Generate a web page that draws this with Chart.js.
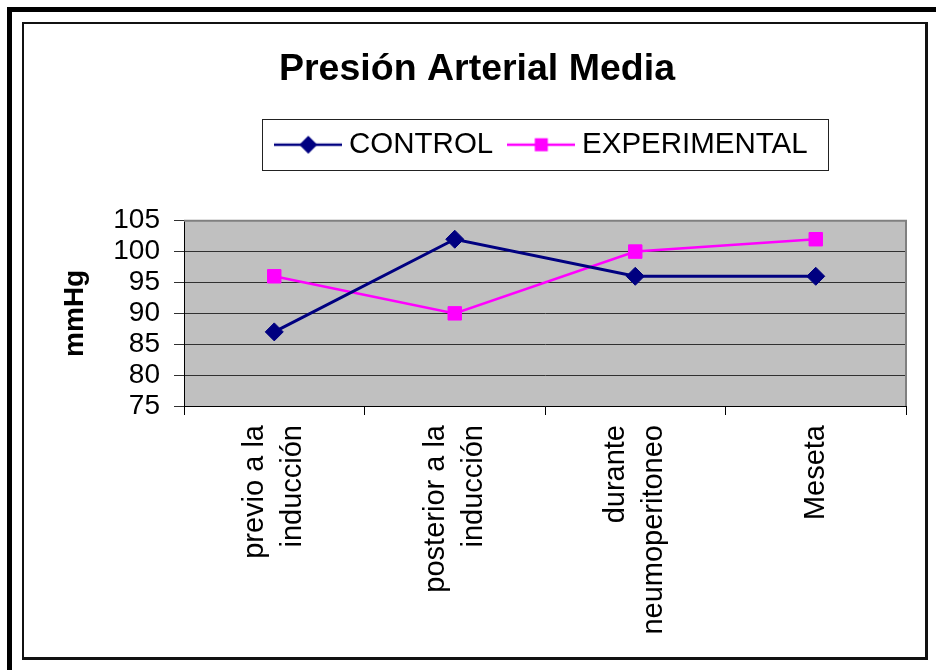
<!DOCTYPE html>
<html><head><meta charset="utf-8">
<script src="https://cdn.jsdelivr.net/npm/chart.js@4.4.0/dist/chart.umd.min.js"></script>
<style>
html,body{margin:0;padding:0;background:#fff;width:936px;height:670px;overflow:hidden;}
#outer{position:absolute;left:7px;top:7px;width:940px;height:680px;border-left:5px solid #000;border-top:5px solid #000;}
#inner{position:absolute;left:22px;top:22px;width:901px;height:633px;border:2px solid #111;border-right-width:3px;border-bottom-width:3px;}
canvas{position:absolute;left:0;top:0;}
</style></head><body>
<div id="outer"></div><div id="inner"></div>
<canvas id="c" width="936" height="670"></canvas>
<script>
const categories = [["previo a la","inducción"],["posterior a la","inducción"],["durante","neumoperitoneo"],["Meseta"]];
const controlValues = [87, 102, 96, 96];
const experimentalValues = [96, 90, 100, 102];
const yMin = 75, yMax = 105, yStep = 5;
const seriesNames = ["CONTROL", "EXPERIMENTAL"];
const FONT = "'Liberation Sans', Arial, sans-serif";
Chart.defaults.font.family = FONT;
Chart.defaults.color = '#000';

function makeMarker(color, style){
  const c = document.createElement('canvas'); c.width = 68; c.height = 22;
  const g = c.getContext('2d');
  g.strokeStyle = color; g.lineWidth = 2.5;
  g.beginPath(); g.moveTo(0, 11); g.lineTo(68, 11); g.stroke();
  g.fillStyle = color;
  if (style === 'diamond') { g.beginPath(); g.moveTo(34, 2); g.lineTo(43, 11); g.lineTo(34, 20); g.lineTo(25, 11); g.closePath(); g.fill(); }
  else { g.fillRect(27.5, 4.5, 13, 13); }
  return c;
}
const legendIcons = [makeMarker('#000080', 'diamond'), makeMarker('#FF00FF', 'square')];
const xFontSize = 29, xLineHeightRatio = 1.32;
const xLineHeight = xFontSize * xLineHeightRatio;

const plotPlugin = {
  id: 'plotDeco',
  beforeInit(chart){
    const fit = chart.legend.fit;
    chart.legend.fit = function(){ fit.call(this); this.height += 51.25; };
  },
  beforeDraw(chart){
    const {ctx, chartArea: a} = chart;
    ctx.save(); ctx.fillStyle = '#C0C0C0';
    ctx.fillRect(a.left, a.top, a.right - a.left, a.bottom - a.top);
    ctx.restore();
  },
  beforeDatasetsDraw(chart){
    const {ctx, chartArea: a} = chart;
    ctx.save(); ctx.strokeStyle = '#808080'; ctx.lineWidth = 2;
    ctx.beginPath(); ctx.moveTo(a.left, a.top); ctx.lineTo(a.right, a.top); ctx.lineTo(a.right, a.bottom); ctx.stroke();
    ctx.restore();
  },
  afterDraw(chart){
    const lg = chart.legend; const hb = lg.legendHitBoxes;
    if (!hb || !hb.length) return;
    const l = hb[0].left - 20, r = hb[hb.length-1].left + hb[hb.length-1].width + 21;
    const t = hb[0].top - 11, b = hb[0].top + hb[0].height + 10.5;
    const ctx = chart.ctx; ctx.save(); ctx.strokeStyle = '#222'; ctx.lineWidth = 1;
    ctx.strokeRect(Math.round(l) + 0.5, Math.round(t) + 0.5, Math.round(r - l), Math.round(b - t));
    ctx.restore();
  }
};

new Chart(document.getElementById('c'), {
  type: 'line',
  data: {
    labels: categories,
    datasets: [
      { label: seriesNames[0], data: controlValues, borderColor: '#000080', backgroundColor: '#000080',
        borderWidth: 3, pointStyle: 'rectRot', pointRadius: 9, pointBorderWidth: 1, tension: 0 },
      { label: seriesNames[1], data: experimentalValues, borderColor: '#FF00FF', backgroundColor: '#FF00FF',
        borderWidth: 2.5, pointStyle: 'rect', pointRadius: 9.5, pointBorderWidth: 1, tension: 0 }
    ]
  },
  options: {
    responsive: false, animation: false, events: [],
    layout: { padding: { top: 24, left: 48, right: 30, bottom: 14 } },
    plugins: {
      tooltip: { enabled: false },
      title: { display: true, text: 'Presión Arterial Media', color: '#000',
        font: { family: FONT, size: 37.5, weight: 'bold', lineHeight: 1.2 }, padding: { top: 23.5, bottom: 15.45 } },
      legend: {
        position: 'top', fullSize: false,
        labels: {
          color: '#000', font: { family: FONT, size: 29.5 }, usePointStyle: true, pointStyleWidth: 52,
          padding: 22,
          generateLabels(chart){
            const items = Chart.defaults.plugins.legend.labels.generateLabels(chart);
            items.forEach((it, i) => { it.pointStyle = legendIcons[i]; });
            return items;
          }
        }
      }
    },
    scales: {
      x: {
        offset: true,
        grid: { display: true, drawOnChartArea: false, drawTicks: true, tickLength: 9, offset: true, color: '#000' },
        border: { display: true, color: '#000', width: 1 },
        ticks: { autoSkip: false, minRotation: 90, maxRotation: 90, padding: 10, color: '#000',
          font: { family: FONT, size: xFontSize, lineHeight: xLineHeightRatio } },
        afterFit(s){
          s.height = 250;
          if (!s.__wrapped) {
            s.__wrapped = true;
            const orig = s._computeLabelItems;
            s._computeLabelItems = function(ca){
              const items = orig.call(this, ca);
              items.forEach(it => {
                const n = Array.isArray(it.label) ? it.label.length : 1;
                if (it.options && it.options.translation) it.options.translation[0] -= (n - 1) * xLineHeight / 2;
              });
              return items;
            };
          }
        }
      },
      y: {
        min: yMin, max: yMax,
        grid: { color: '#303030', lineWidth: 1, tickLength: 10, drawTicks: true },
        border: { display: true, color: '#000', width: 1 },
        ticks: { stepSize: yStep, autoSkip: false, padding: 14, color: '#000', font: { family: FONT, size: 28, lineHeight: 1.0 } },
        title: { display: true, text: 'mmHg', color: '#000', font: { family: FONT, size: 28, weight: 'bold', lineHeight: 1.2 }, padding: { top: 10 } },
        afterFit(s){ s.width = 136; }
      }
    }
  },
  plugins: [plotPlugin]
});
</script>
</body></html>
